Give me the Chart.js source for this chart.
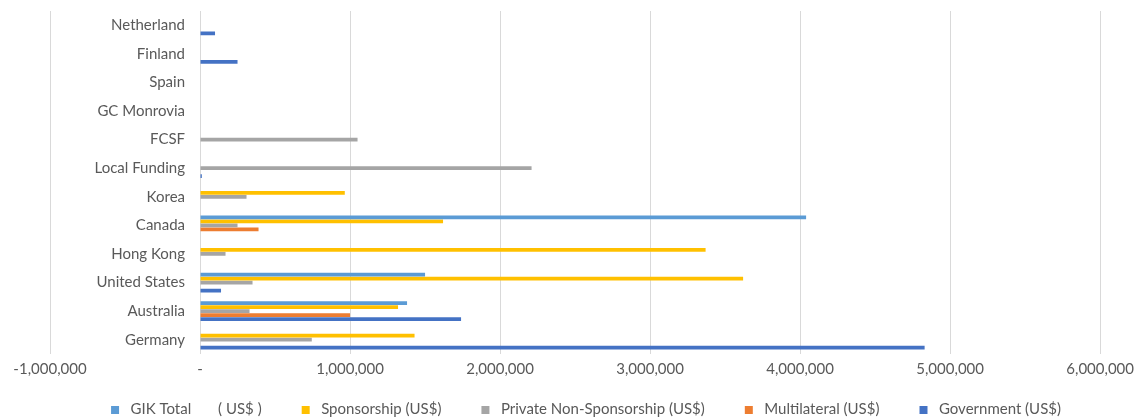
<!DOCTYPE html>
<html>
<head>
<meta charset="utf-8">
<script src="https://cdn.jsdelivr.net/npm/chart.js@4/dist/chart.umd.min.js"></script>
<style>
  html, body { margin: 0; padding: 0; background: #ffffff; }
  #wrap { width: 1140px; height: 419px; position: relative; }
</style>
</head>
<body>
<div id="wrap"><canvas id="chart"></canvas></div>
<script>
// Funding sources by donor (US$), listed bottom to top
const categories = ['Germany', 'Australia', 'United States', 'Hong Kong', 'Canada', 'Korea',
  'Local Funding', 'FCSF', 'GC Monrovia', 'Spain', 'Finland', 'Netherland'];

const gikTotal =              [null, 1380000, 1500000, null, 4040000, null, null, null, null, null, null, null];
const sponsorship =           [1430000, 1320000, 3620000, 3370000, 1620000, 965000, null, null, null, null, null, null];
const privateNonSponsorship = [745000, 330000, 350000, 170000, 250000, 310000, 2210000, 1050000, null, null, null, null];
const multilateral =          [null, 1000000, null, null, 390000, null, null, null, null, null, null, null];
const government =            [4830000, 1740000, 140000, null, null, null, 12000, null, null, null, 250000, 100000];

const seriesNames = ['GIK Total       ( US$ )', 'Sponsorship (US$)', 'Private Non-Sponsorship (US$)',
  'Multilateral (US$)', 'Government (US$)'];
const seriesColors = ['#5B9BD5', '#FFC000', '#A5A5A5', '#ED7D31', '#4472C4'];

const xMin = -1000000;
const xMax = 6000000;
const xStep = 1000000;

const textColor = '#595959';
const gridColor = '#d9d9d9';
const fontFamily = 'Lato, "Open Sans", sans-serif';
const fontSize = 15;

// Legend marker: small square sitting at the right end of a wider transparent swatch,
// so the gap before each entry is wider than the gap before its text
const markerWidth = 30;
function legendMarker(color) {
  const c = document.createElement('canvas');
  c.width = markerWidth;
  c.height = 8;
  const g = c.getContext('2d');
  g.fillStyle = color;
  g.fillRect(markerWidth - 12, 0, 8, 8);
  return c;
}

const seriesValues = [gikTotal, sponsorship, privateNonSponsorship, multilateral, government];

new Chart(document.getElementById('chart'), {
  type: 'bar',
  data: {
    labels: categories,
    datasets: seriesValues.map((values, i) => ({
      label: seriesNames[i],
      data: values,
      backgroundColor: seriesColors[i],
      borderWidth: 0,
      pointStyle: legendMarker(seriesColors[i]),
      categoryPercentage: 0.7,
      barPercentage: 0.95
    }))
  },
  options: {
    indexAxis: 'y',
    responsive: true,
    maintainAspectRatio: false,
    animation: false,
    layout: { padding: { top: 11, left: 50, right: 36, bottom: 0 } },
    scales: {
      x: {
        type: 'linear',
        min: xMin,
        max: xMax,
        ticks: {
          stepSize: xStep,
          color: textColor,
          padding: 6,
          font: { family: fontFamily, size: fontSize },
          callback: (v) => (v === 0 ? '-' : Number(v).toLocaleString('en-US'))
        },
        grid: { color: gridColor, lineWidth: 1, drawTicks: false },
        border: { display: false },
        afterFit: (scale) => { scale.height = 26; }
      },
      y: {
        type: 'category',
        reverse: true,
        // category labels sit just left of the zero line
        position: { x: -100000 },
        ticks: {
          color: textColor,
          padding: 0,
          font: { family: fontFamily, size: fontSize }
        },
        grid: { display: false, drawTicks: false },
        border: { display: false }
      }
    },
    plugins: {
      tooltip: { enabled: false },
      legend: {
        position: 'bottom',
        maxHeight: 39,
        labels: {
          color: textColor,
          usePointStyle: true,
          pointStyleWidth: markerWidth,
          boxHeight: 8,
          padding: 22,
          font: { family: fontFamily, size: fontSize }
        }
      }
    }
  }
});
</script>
</body>
</html>
